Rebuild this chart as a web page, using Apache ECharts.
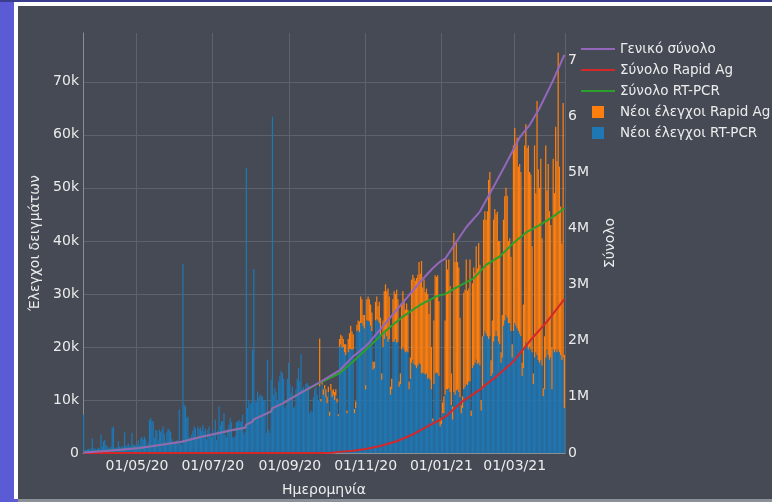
<!DOCTYPE html>
<html><head><meta charset="utf-8">
<script src="https://cdn.jsdelivr.net/npm/echarts@6/dist/echarts.min.js"></script>
<style>
html,body{margin:0;padding:0;width:772px;height:502px;overflow:hidden;background:#5b5bd6;}
#topbar{position:absolute;left:0;top:0;width:772px;height:2px;background:#3a3d8e;}
#panel{position:absolute;left:14px;top:2px;width:754px;height:493px;border-left:4px solid #fff;border-top:4px solid #fff;background:#454a54;}
#bottom{position:absolute;left:18px;top:499px;width:754px;height:3px;background:#8c9198;}
#chart{position:absolute;left:0;top:0;width:772px;height:502px;}
</style></head>
<body>
<div id="topbar"></div><div id="panel"></div><div id="bottom"></div>
<div id="chart"></div>
<script>
// ---------- DATA ----------
const startDate = '2020-03-19';   // first day of the daily series
const dayCount = 388;             // through 2021-04-10

// Daily new RT-PCR tests (one value per day from startDate)
const pcrDaily = [
 7200,600,500,700,800,600,900,2800,700,900,
 600,800,1000,700,3500,1200,2200,2500,1500,1300,
 800,1000,1200,4700,5000,1000,900,1100,2200,1200,
 1000,1300,1100,3900,1300,1400,1800,1200,1500,3800,
 1600,1500,1400,1800,2400,1500,2800,3000,2500,3100,
 2600,1200,2000,6300,6600,6000,6000,2800,4400,4200,
 2400,4400,4000,4400,5000,3600,2200,4000,4600,4400,
 4000,2600,2000,2200,1800,2400,2000,8200,1800,1500,
 35700,9100,8800,6600,6900,3000,2500,3500,4200,5000,
 4600,2800,5000,4500,4800,4200,5300,4000,4600,2600,
 4400,5000,3500,3000,4400,3800,6300,2400,4200,8800,
 5200,6000,6000,7500,3500,3000,4500,5300,6600,5800,
 3000,2800,3200,5800,6000,6200,5800,6000,7200,3600,
 4000,53800,8500,10000,9200,9500,19500,34700,9700,9600,
 11600,10500,11000,10800,10600,10000,9800,3800,17600,4500,
 3800,13800,63400,11000,12300,11500,10000,13500,14500,15400,
 15100,14000,8500,9000,14000,17000,13000,11300,12500,8500,
 8800,12000,14000,16000,13500,18600,12000,12500,11800,13000,
 13200,12800,7500,8000,7800,10500,12000,12500,11000,10000,
 12600,9700,12900,11000,12000,10500,9400,11500,7000,11800,
 10500,11000,10000,10800,9500,7000,20000,20500,19800,20000,
 19000,18500,7500,19000,19600,19600,19400,19600,7500,8500,
 23000,23200,22800,24500,24500,24000,23500,12000,25000,25000,
 24800,24000,23000,15700,16000,25000,25200,25000,24500,22000,
 13800,20000,21500,22600,22000,21000,21500,11000,12000,21000,
 21000,21500,20800,21000,12500,13000,19500,20000,19500,19000,
 19200,19000,12000,14000,17000,17600,16800,16500,16000,16500,
 17000,16800,15000,15200,15000,14800,15000,14000,14200,13800,
 12000,6000,13000,15000,15200,15000,14500,5000,5500,7500,
 7500,11000,12000,12000,12200,11500,9000,6300,11500,11000,
 11800,12000,11500,10500,7500,8500,12000,12500,13000,12800,
 13500,13500,7000,16000,16500,17000,17600,16800,17000,16500,
 8000,12000,22000,23000,22500,22000,21500,22000,14500,15000,
 21000,22000,23000,22000,21000,20500,17000,18000,24000,25000,
 26000,25500,24500,24500,23000,18000,23000,24500,24000,23500,
 23000,22500,22000,14500,16000,20000,21000,20500,19500,20000,
 19500,19000,13000,18000,19000,18500,17500,17000,17500,16500,
 10700,12000,18000,19500,18500,17600,18000,12000,19500,19000,
 19500,19000,19500,19000,18500,17500,18000,8500
];

// Daily new Rapid Ag tests, starting at rapidStartDate
const rapidStartDate = '2020-09-25';
const rapidDaily = [
 9000,500,800,
 1000,800,1500,1200,1000,800,1200,1300,1000,1500,1200,800,300,
 1500,1800,2200,1500,1500,2000,500,2500,3000,4400,3500,2800,800,1200,
 1200,1800,2000,5000,4500,2000,2500,800,4000,4500,
 4200,4000,3500,1500,1200,3500,4300,2700,4000,3500,
 1200,5000,9000,9200,8500,10000,8000,1500,2000,8000,
 9500,8500,10000,8000,1000,2000,8500,10500,9500,8000,
 9000,8000,1500,4000,15700,16000,16200,16000,17000,17100,
 19000,17000,21200,16000,17700,15500,16000,16000,12000,15000,
 8000,500,12000,18500,18000,18500,14100,1600,1100,2000,
 3200,14000,24500,22600,24300,20000,6000,2500,30000,25000,
 28000,24000,23500,15000,1500,2200,18200,18300,23500,17800,
 17500,23000,1000,16000,18500,17000,21400,18000,22600,19000,
 2000,10000,22000,22600,21500,23600,30000,31000,3000,10000,
 23000,24000,22000,23500,19000,19500,2000,8000,20000,23400,
 24000,23000,15500,16000,14000,2500,35000,36800,34000,36000,
 31000,32000,31000,2500,12000,38000,41000,37000,38500,33000,
 33000,20000,2000,40000,30000,47900,36000,33000,38000,24000,
 1500,10000,40000,30000,36000,28000,25000,8000,36000,30000,
 42000,36000,56000,35000,28000,22000,48000,10000
];

// Cumulative totals (read at sample dates)
const totalDates = ['2020-03-19','2020-04-03','2020-04-18','2020-05-03','2020-05-18','2020-06-06','2020-06-07','2020-06-22','2020-07-07','2020-07-17','2020-07-27','2020-07-28','2020-08-02','2020-08-03','2020-08-11','2020-08-17','2020-08-18','2020-08-26','2020-09-09','2020-09-25','2020-10-11','2020-10-22','2020-11-01','2020-11-04','2020-11-18','2020-12-01','2020-12-15','2020-12-25','2020-12-31','2021-01-04','2021-01-10','2021-01-21','2021-02-01','2021-02-12','2021-02-22','2021-03-05','2021-03-13','2021-03-21','2021-04-01','2021-04-10'];
const totalValues = [7000,30000,60000,90000,140000,200000,235000,290000,360000,410000,450000,505000,560000,600000,680000,740000,800000,880000,1060000,1260000,1470000,1720000,1900000,1970000,2340000,2680000,3050000,3290000,3410000,3460000,3660000,4020000,4300000,4740000,5150000,5620000,5840000,6140000,6640000,7090000];

const pcrCumDates = ['2020-03-19','2020-04-03','2020-04-18','2020-05-03','2020-05-18','2020-06-06','2020-06-07','2020-06-22','2020-07-07','2020-07-17','2020-07-27','2020-07-28','2020-08-02','2020-08-03','2020-08-11','2020-08-17','2020-08-18','2020-08-26','2020-09-09','2020-09-25','2020-10-11','2020-10-22','2020-11-04','2020-11-18','2020-12-01','2020-12-15','2020-12-28','2021-01-04','2021-01-14','2021-01-27','2021-02-06','2021-02-17','2021-02-28','2021-03-11','2021-03-21','2021-04-01','2021-04-10'];
const pcrCumValues = [7000,30000,60000,90000,140000,200000,235000,290000,360000,410000,450000,505000,560000,600000,680000,740000,800000,880000,1060000,1250000,1420000,1630000,1900000,2190000,2430000,2640000,2790000,2830000,2960000,3110000,3350000,3500000,3740000,3940000,4060000,4210000,4360000];

const rapidCumDates = ['2020-03-19','2020-09-25','2020-10-05','2020-10-11','2020-10-22','2020-11-01','2020-11-12','2020-11-26','2020-12-09','2020-12-23','2020-12-31','2021-01-05','2021-01-18','2021-02-01','2021-02-14','2021-02-28','2021-03-13','2021-03-27','2021-04-10'];
const rapidCumValues = [0,0,5000,20000,40000,70000,120000,210000,330000,500000,590000,660000,920000,1130000,1360000,1630000,1990000,2340000,2740000];

const xTickMonths = ['05','07','09','11','01','03'];

// ---------- BUILD ----------
const dates = [];
{
  const d0 = new Date(startDate + 'T00:00:00Z');
  for (let i = 0; i < dayCount; i++) {
    const d = new Date(d0.getTime() + i * 86400000);
    dates.push(d.toISOString().slice(0, 10));
  }
}
const rapidOffset = dates.indexOf(rapidStartDate);
const rapidSeries = dates.map((_, i) => (i >= rapidOffset ? rapidDaily[i - rapidOffset] : null));
const pair = (ds, vs) => ds.map((d, i) => [d, vs[i]]);

const tickShown = (idx, val) => val.slice(8, 10) === '01' && xTickMonths.includes(val.slice(5, 7));
const FONT = 'DejaVu Sans';
const TXT = '#ececec';
const GRID = '#5e636b';
const sq = 'path://M0,0M34,14M11,1L23,1L23,13L11,13Z';
const ln = 'path://M0,0M34,14M0,6L34,6L34,8L0,8Z';

const chart = echarts.init(document.getElementById('chart'), null, {renderer: 'canvas'});
chart.setOption({
  backgroundColor: 'transparent',
  animation: false,
  textStyle: {fontFamily: FONT},
  grid: {left: 83, right: 207, top: 33, bottom: 49, containLabel: false},
  legend: {
    orient: 'vertical', left: 577, top: 38, padding: [4, 4, 4, 4],
    backgroundColor: '#454a54',
    itemWidth: 34, itemHeight: 14, itemGap: 7,
    textStyle: {color: TXT, fontSize: 13.5, fontFamily: FONT},
    data: [
      {name: 'Γενικό σύνολο', icon: ln},
      {name: 'Σύνολο Rapid Ag', icon: ln},
      {name: 'Σύνολο RT-PCR', icon: ln},
      {name: 'Νέοι έλεγχοι Rapid Ag', icon: sq},
      {name: 'Νέοι έλεγχοι RT-PCR', icon: sq}
    ]
  },
  xAxis: {
    type: 'category', data: dates, boundaryGap: true,
    axisLine: {show: true, lineStyle: {color: '#8a8f96', width: 1}},
    axisTick: {show: false},
    axisLabel: {interval: tickShown, color: TXT, fontSize: 14, fontFamily: FONT, margin: 6,
      formatter: v => v.slice(8, 10) + '/' + v.slice(5, 7) + '/' + v.slice(2, 4)},
    splitLine: {show: true, interval: tickShown, lineStyle: {color: GRID, width: 1}},
    name: 'Ημερομηνία', nameLocation: 'middle', nameGap: 30,
    nameTextStyle: {color: TXT, fontSize: 14, fontFamily: FONT}
  },
  yAxis: [
    {
      type: 'value', position: 'left', min: 0, max: 79200, interval: 10000,
      axisLine: {show: true, lineStyle: {color: '#8a8f96', width: 1}},
      axisTick: {show: false},
      axisLabel: {color: TXT, fontSize: 14, fontFamily: FONT, margin: 4, showMaxLabel: false,
        formatter: v => (v === 0 ? '0' : v / 1000 + 'k')},
      splitLine: {show: true, showMaxLine: false, lineStyle: {color: GRID, width: 1}},
      name: 'Έλεγχοι δειγμάτων', nameLocation: 'middle', nameGap: 40, nameRotate: 90,
      nameTextStyle: {color: TXT, fontSize: 14, fontFamily: FONT}
    },
    {
      type: 'value', position: 'right', min: 0, max: 7480000, interval: 1000000,
      axisLine: {show: false}, axisTick: {show: false},
      axisLabel: {color: TXT, fontSize: 14, fontFamily: FONT, margin: 3, showMaxLabel: false,
        formatter: v => (v === 0 ? '0' : v / 1000000 + 'M')},
      splitLine: {show: false},
      name: 'Σύνολο', nameLocation: 'middle', nameGap: 38, nameRotate: 90,
      nameTextStyle: {color: TXT, fontSize: 14, fontFamily: FONT}
    }
  ],
  series: [
    {name: 'Νέοι έλεγχοι RT-PCR', type: 'bar', stack: 'daily', yAxisIndex: 0,
      data: pcrDaily, itemStyle: {color: '#1f77b4'}, barCategoryGap: '0%'},
    {name: 'Νέοι έλεγχοι Rapid Ag', type: 'bar', stack: 'daily', yAxisIndex: 0,
      data: rapidSeries, itemStyle: {color: '#ff7f0e'}, barCategoryGap: '0%'},
    {name: 'Σύνολο RT-PCR', type: 'line', yAxisIndex: 1, data: pair(pcrCumDates, pcrCumValues),
      symbol: 'none', lineStyle: {color: '#2ca02c', width: 2}, itemStyle: {color: '#2ca02c'}, z: 3},
    {name: 'Σύνολο Rapid Ag', type: 'line', yAxisIndex: 1, data: pair(rapidCumDates, rapidCumValues),
      symbol: 'none', lineStyle: {color: '#d62728', width: 2}, itemStyle: {color: '#d62728'}, z: 4},
    {name: 'Γενικό σύνολο', type: 'line', yAxisIndex: 1, data: pair(totalDates, totalValues),
      symbol: 'none', lineStyle: {color: '#9467bd', width: 2}, itemStyle: {color: '#9467bd'}, z: 5}
  ]
});
</script>
</body></html>
